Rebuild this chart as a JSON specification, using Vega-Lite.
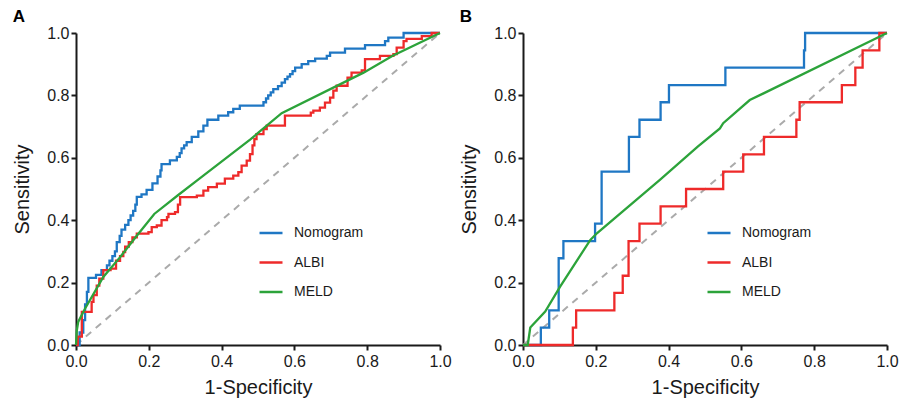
{
  "$schema": "https://vega.github.io/schema/vega-lite/v6.json",
  "padding": {"left": 12, "top": 8, "right": 2, "bottom": 2},
  "background": "white",
  "config": {
    "font": "Liberation Sans",
    "view": {"stroke": null},
    "axis": {
      "grid": false,
      "labelFlush": false,
      "labelOverlap": false,
      "domainColor": "#1a1a1a",
      "domainWidth": 2,
      "tickColor": "#1a1a1a",
      "tickWidth": 2,
      "tickSize": 5,
      "labelFont": "Liberation Sans",
      "labelFontSize": 16,
      "labelColor": "#1a1a1a",
      "titleFont": "Liberation Sans",
      "titleFontSize": 20,
      "titleFontWeight": "normal",
      "titleColor": "#1a1a1a"
    },
    "legend": {
      "labelFont": "Liberation Sans",
      "labelFontSize": 14,
      "labelColor": "#1a1a1a"
    },
    "title": {"font": "Liberation Sans", "fontSize": 17, "fontWeight": "bold", "color": "#000", "anchor": "start", "frame": "bounds", "offset": -1}
  },
  "datasets": {
    "roc": [
      {"panel": "A", "model": "Nomogram", "x": 0, "y": 0},
      {"panel": "A", "model": "Nomogram", "x": 0.01, "y": 0.04},
      {"panel": "A", "model": "Nomogram", "x": 0.02, "y": 0.08},
      {"panel": "A", "model": "Nomogram", "x": 0.025, "y": 0.13},
      {"panel": "A", "model": "Nomogram", "x": 0.03, "y": 0.17},
      {"panel": "A", "model": "Nomogram", "x": 0.034, "y": 0.215},
      {"panel": "A", "model": "Nomogram", "x": 0.055, "y": 0.225},
      {"panel": "A", "model": "Nomogram", "x": 0.07, "y": 0.24},
      {"panel": "A", "model": "Nomogram", "x": 0.085, "y": 0.255},
      {"panel": "A", "model": "Nomogram", "x": 0.092, "y": 0.27},
      {"panel": "A", "model": "Nomogram", "x": 0.1, "y": 0.285},
      {"panel": "A", "model": "Nomogram", "x": 0.107, "y": 0.3},
      {"panel": "A", "model": "Nomogram", "x": 0.112, "y": 0.33},
      {"panel": "A", "model": "Nomogram", "x": 0.12, "y": 0.35},
      {"panel": "A", "model": "Nomogram", "x": 0.125, "y": 0.37},
      {"panel": "A", "model": "Nomogram", "x": 0.135, "y": 0.385},
      {"panel": "A", "model": "Nomogram", "x": 0.144, "y": 0.4},
      {"panel": "A", "model": "Nomogram", "x": 0.15, "y": 0.415},
      {"panel": "A", "model": "Nomogram", "x": 0.157, "y": 0.43},
      {"panel": "A", "model": "Nomogram", "x": 0.163, "y": 0.45},
      {"panel": "A", "model": "Nomogram", "x": 0.167, "y": 0.475},
      {"panel": "A", "model": "Nomogram", "x": 0.18, "y": 0.483},
      {"panel": "A", "model": "Nomogram", "x": 0.194, "y": 0.497},
      {"panel": "A", "model": "Nomogram", "x": 0.21, "y": 0.518},
      {"panel": "A", "model": "Nomogram", "x": 0.224, "y": 0.54},
      {"panel": "A", "model": "Nomogram", "x": 0.232, "y": 0.56},
      {"panel": "A", "model": "Nomogram", "x": 0.235, "y": 0.58},
      {"panel": "A", "model": "Nomogram", "x": 0.258, "y": 0.592},
      {"panel": "A", "model": "Nomogram", "x": 0.277, "y": 0.603},
      {"panel": "A", "model": "Nomogram", "x": 0.285, "y": 0.615},
      {"panel": "A", "model": "Nomogram", "x": 0.29, "y": 0.63},
      {"panel": "A", "model": "Nomogram", "x": 0.297, "y": 0.64},
      {"panel": "A", "model": "Nomogram", "x": 0.304, "y": 0.65},
      {"panel": "A", "model": "Nomogram", "x": 0.318, "y": 0.667},
      {"panel": "A", "model": "Nomogram", "x": 0.336, "y": 0.685},
      {"panel": "A", "model": "Nomogram", "x": 0.35, "y": 0.703},
      {"panel": "A", "model": "Nomogram", "x": 0.361, "y": 0.722},
      {"panel": "A", "model": "Nomogram", "x": 0.391, "y": 0.735},
      {"panel": "A", "model": "Nomogram", "x": 0.418, "y": 0.746},
      {"panel": "A", "model": "Nomogram", "x": 0.432, "y": 0.757},
      {"panel": "A", "model": "Nomogram", "x": 0.45, "y": 0.767},
      {"panel": "A", "model": "Nomogram", "x": 0.515, "y": 0.778},
      {"panel": "A", "model": "Nomogram", "x": 0.522, "y": 0.79},
      {"panel": "A", "model": "Nomogram", "x": 0.528, "y": 0.8},
      {"panel": "A", "model": "Nomogram", "x": 0.535, "y": 0.81},
      {"panel": "A", "model": "Nomogram", "x": 0.542, "y": 0.82},
      {"panel": "A", "model": "Nomogram", "x": 0.555, "y": 0.83},
      {"panel": "A", "model": "Nomogram", "x": 0.565, "y": 0.841},
      {"panel": "A", "model": "Nomogram", "x": 0.574, "y": 0.852},
      {"panel": "A", "model": "Nomogram", "x": 0.581, "y": 0.86},
      {"panel": "A", "model": "Nomogram", "x": 0.588, "y": 0.868},
      {"panel": "A", "model": "Nomogram", "x": 0.595, "y": 0.878},
      {"panel": "A", "model": "Nomogram", "x": 0.602, "y": 0.889},
      {"panel": "A", "model": "Nomogram", "x": 0.62, "y": 0.9},
      {"panel": "A", "model": "Nomogram", "x": 0.638, "y": 0.91},
      {"panel": "A", "model": "Nomogram", "x": 0.657, "y": 0.918},
      {"panel": "A", "model": "Nomogram", "x": 0.689, "y": 0.927},
      {"panel": "A", "model": "Nomogram", "x": 0.698, "y": 0.937},
      {"panel": "A", "model": "Nomogram", "x": 0.739, "y": 0.95},
      {"panel": "A", "model": "Nomogram", "x": 0.794, "y": 0.961},
      {"panel": "A", "model": "Nomogram", "x": 0.849, "y": 0.974},
      {"panel": "A", "model": "Nomogram", "x": 0.858, "y": 0.985},
      {"panel": "A", "model": "Nomogram", "x": 0.9, "y": 1.0},
      {"panel": "A", "model": "Nomogram", "x": 1, "y": 1.0},

      {"panel": "A", "model": "ALBI", "x": 0, "y": 0},
      {"panel": "A", "model": "ALBI", "x": 0.005, "y": 0.027},
      {"panel": "A", "model": "ALBI", "x": 0.016, "y": 0.106},
      {"panel": "A", "model": "ALBI", "x": 0.043, "y": 0.138},
      {"panel": "A", "model": "ALBI", "x": 0.048, "y": 0.16},
      {"panel": "A", "model": "ALBI", "x": 0.057, "y": 0.19},
      {"panel": "A", "model": "ALBI", "x": 0.064, "y": 0.213},
      {"panel": "A", "model": "ALBI", "x": 0.075, "y": 0.24},
      {"panel": "A", "model": "ALBI", "x": 0.095, "y": 0.245},
      {"panel": "A", "model": "ALBI", "x": 0.11, "y": 0.27},
      {"panel": "A", "model": "ALBI", "x": 0.121, "y": 0.285},
      {"panel": "A", "model": "ALBI", "x": 0.13, "y": 0.298},
      {"panel": "A", "model": "ALBI", "x": 0.135, "y": 0.315},
      {"panel": "A", "model": "ALBI", "x": 0.145, "y": 0.33},
      {"panel": "A", "model": "ALBI", "x": 0.155, "y": 0.345},
      {"panel": "A", "model": "ALBI", "x": 0.167, "y": 0.357},
      {"panel": "A", "model": "ALBI", "x": 0.199, "y": 0.362},
      {"panel": "A", "model": "ALBI", "x": 0.208, "y": 0.378},
      {"panel": "A", "model": "ALBI", "x": 0.222, "y": 0.383},
      {"panel": "A", "model": "ALBI", "x": 0.235, "y": 0.4},
      {"panel": "A", "model": "ALBI", "x": 0.25, "y": 0.41},
      {"panel": "A", "model": "ALBI", "x": 0.254, "y": 0.42},
      {"panel": "A", "model": "ALBI", "x": 0.272, "y": 0.426},
      {"panel": "A", "model": "ALBI", "x": 0.28, "y": 0.45},
      {"panel": "A", "model": "ALBI", "x": 0.286, "y": 0.474},
      {"panel": "A", "model": "ALBI", "x": 0.332, "y": 0.479},
      {"panel": "A", "model": "ALBI", "x": 0.35, "y": 0.495},
      {"panel": "A", "model": "ALBI", "x": 0.363, "y": 0.506},
      {"panel": "A", "model": "ALBI", "x": 0.387, "y": 0.517},
      {"panel": "A", "model": "ALBI", "x": 0.409, "y": 0.533},
      {"panel": "A", "model": "ALBI", "x": 0.432, "y": 0.543},
      {"panel": "A", "model": "ALBI", "x": 0.446, "y": 0.554},
      {"panel": "A", "model": "ALBI", "x": 0.455, "y": 0.575},
      {"panel": "A", "model": "ALBI", "x": 0.469, "y": 0.591},
      {"panel": "A", "model": "ALBI", "x": 0.478, "y": 0.612},
      {"panel": "A", "model": "ALBI", "x": 0.485, "y": 0.64},
      {"panel": "A", "model": "ALBI", "x": 0.49, "y": 0.66},
      {"panel": "A", "model": "ALBI", "x": 0.496, "y": 0.676},
      {"panel": "A", "model": "ALBI", "x": 0.515, "y": 0.692},
      {"panel": "A", "model": "ALBI", "x": 0.524, "y": 0.703},
      {"panel": "A", "model": "ALBI", "x": 0.574, "y": 0.735},
      {"panel": "A", "model": "ALBI", "x": 0.645, "y": 0.745},
      {"panel": "A", "model": "ALBI", "x": 0.652, "y": 0.751},
      {"panel": "A", "model": "ALBI", "x": 0.67, "y": 0.761},
      {"panel": "A", "model": "ALBI", "x": 0.684, "y": 0.777},
      {"panel": "A", "model": "ALBI", "x": 0.698, "y": 0.793},
      {"panel": "A", "model": "ALBI", "x": 0.707, "y": 0.815},
      {"panel": "A", "model": "ALBI", "x": 0.716, "y": 0.831},
      {"panel": "A", "model": "ALBI", "x": 0.746, "y": 0.857},
      {"panel": "A", "model": "ALBI", "x": 0.757, "y": 0.873},
      {"panel": "A", "model": "ALBI", "x": 0.785, "y": 0.88},
      {"panel": "A", "model": "ALBI", "x": 0.794, "y": 0.916},
      {"panel": "A", "model": "ALBI", "x": 0.835, "y": 0.927},
      {"panel": "A", "model": "ALBI", "x": 0.872, "y": 0.932},
      {"panel": "A", "model": "ALBI", "x": 0.881, "y": 0.953},
      {"panel": "A", "model": "ALBI", "x": 0.9, "y": 0.974},
      {"panel": "A", "model": "ALBI", "x": 0.908, "y": 0.981},
      {"panel": "A", "model": "ALBI", "x": 0.95, "y": 0.99},
      {"panel": "A", "model": "ALBI", "x": 0.977, "y": 1.0},
      {"panel": "A", "model": "ALBI", "x": 1, "y": 1.0},

      {"panel": "A", "model": "MELD", "x": 0, "y": 0},
      {"panel": "A", "model": "MELD", "x": 0.002, "y": 0.045},
      {"panel": "A", "model": "MELD", "x": 0.006, "y": 0.074},
      {"panel": "A", "model": "MELD", "x": 0.025, "y": 0.117},
      {"panel": "A", "model": "MELD", "x": 0.075, "y": 0.218},
      {"panel": "A", "model": "MELD", "x": 0.12, "y": 0.28},
      {"panel": "A", "model": "MELD", "x": 0.167, "y": 0.35},
      {"panel": "A", "model": "MELD", "x": 0.215, "y": 0.42},
      {"panel": "A", "model": "MELD", "x": 0.28, "y": 0.48},
      {"panel": "A", "model": "MELD", "x": 0.332, "y": 0.527},
      {"panel": "A", "model": "MELD", "x": 0.48, "y": 0.66},
      {"panel": "A", "model": "MELD", "x": 0.565, "y": 0.743},
      {"panel": "A", "model": "MELD", "x": 0.79, "y": 0.873},
      {"panel": "A", "model": "MELD", "x": 0.87, "y": 0.927},
      {"panel": "A", "model": "MELD", "x": 1, "y": 1},

      {"panel": "B", "model": "Nomogram", "x": 0, "y": 0},
      {"panel": "B", "model": "Nomogram", "x": 0.049, "y": 0.0556},
      {"panel": "B", "model": "Nomogram", "x": 0.072, "y": 0.111},
      {"panel": "B", "model": "Nomogram", "x": 0.098, "y": 0.278},
      {"panel": "B", "model": "Nomogram", "x": 0.111, "y": 0.333},
      {"panel": "B", "model": "Nomogram", "x": 0.198, "y": 0.389},
      {"panel": "B", "model": "Nomogram", "x": 0.216, "y": 0.556},
      {"panel": "B", "model": "Nomogram", "x": 0.291, "y": 0.667},
      {"panel": "B", "model": "Nomogram", "x": 0.32, "y": 0.722},
      {"panel": "B", "model": "Nomogram", "x": 0.378, "y": 0.778},
      {"panel": "B", "model": "Nomogram", "x": 0.401, "y": 0.833},
      {"panel": "B", "model": "Nomogram", "x": 0.556, "y": 0.889},
      {"panel": "B", "model": "Nomogram", "x": 0.772, "y": 0.944},
      {"panel": "B", "model": "Nomogram", "x": 0.775, "y": 1.0},
      {"panel": "B", "model": "Nomogram", "x": 1, "y": 1.0},

      {"panel": "B", "model": "ALBI", "x": 0, "y": 0},
      {"panel": "B", "model": "ALBI", "x": 0.137, "y": 0.0556},
      {"panel": "B", "model": "ALBI", "x": 0.146, "y": 0.111},
      {"panel": "B", "model": "ALBI", "x": 0.251, "y": 0.167},
      {"panel": "B", "model": "ALBI", "x": 0.274, "y": 0.222},
      {"panel": "B", "model": "ALBI", "x": 0.29, "y": 0.333},
      {"panel": "B", "model": "ALBI", "x": 0.32, "y": 0.389},
      {"panel": "B", "model": "ALBI", "x": 0.378, "y": 0.444},
      {"panel": "B", "model": "ALBI", "x": 0.448, "y": 0.5},
      {"panel": "B", "model": "ALBI", "x": 0.55, "y": 0.556},
      {"panel": "B", "model": "ALBI", "x": 0.605, "y": 0.611},
      {"panel": "B", "model": "ALBI", "x": 0.662, "y": 0.667},
      {"panel": "B", "model": "ALBI", "x": 0.751, "y": 0.722},
      {"panel": "B", "model": "ALBI", "x": 0.76, "y": 0.778},
      {"panel": "B", "model": "ALBI", "x": 0.876, "y": 0.833},
      {"panel": "B", "model": "ALBI", "x": 0.913, "y": 0.889},
      {"panel": "B", "model": "ALBI", "x": 0.933, "y": 0.944},
      {"panel": "B", "model": "ALBI", "x": 0.979, "y": 1.0},
      {"panel": "B", "model": "ALBI", "x": 1, "y": 1.0},

      {"panel": "B", "model": "MELD", "x": 0, "y": 0},
      {"panel": "B", "model": "MELD", "x": 0.013, "y": 0.0},
      {"panel": "B", "model": "MELD", "x": 0.02, "y": 0.056},
      {"panel": "B", "model": "MELD", "x": 0.061, "y": 0.107},
      {"panel": "B", "model": "MELD", "x": 0.102, "y": 0.187},
      {"panel": "B", "model": "MELD", "x": 0.185, "y": 0.337},
      {"panel": "B", "model": "MELD", "x": 0.203, "y": 0.358},
      {"panel": "B", "model": "MELD", "x": 0.376, "y": 0.529},
      {"panel": "B", "model": "MELD", "x": 0.48, "y": 0.636},
      {"panel": "B", "model": "MELD", "x": 0.541, "y": 0.694},
      {"panel": "B", "model": "MELD", "x": 0.55, "y": 0.711},
      {"panel": "B", "model": "MELD", "x": 0.623, "y": 0.785},
      {"panel": "B", "model": "MELD", "x": 1, "y": 1}
    ],
    "diag": [{"x": 0, "y": 0}, {"x": 1, "y": 1}]
  },
  "spacing": 7,
  "resolve": {"scale": {"color": "independent"}, "legend": {"color": "independent"}},
  "hconcat": [
    {
      "width": 364,
      "height": 312,
      "title": {"text": "A"},
      "layer": [
        {
          "data": {"name": "diag"},
          "mark": {"type": "line", "color": "#aaaaaa", "strokeWidth": 2, "strokeDash": [7, 6]},
          "encoding": {
            "x": {"field": "x", "type": "quantitative", "scale": {"domain": [0, 1], "nice": false}, "axis": {"values": [0, 0.2, 0.4, 0.6, 0.8, 1], "format": ".1f", "title": "1-Specificity", "labelPadding": 3, "titlePadding": 8}},
            "y": {"field": "y", "type": "quantitative", "scale": {"domain": [0, 1], "nice": false}, "axis": {"values": [0, 0.2, 0.4, 0.6, 0.8, 1], "format": ".1f", "title": "Sensitivity", "labelPadding": 2, "titlePadding": 14}}
          }
        },
        {
          "data": {"name": "roc"},
          "transform": [{"filter": "datum.panel == 'A' && datum.model != 'MELD'"}],
          "mark": {"type": "line", "interpolate": "step-after", "strokeWidth": 2.3},
          "encoding": {
            "x": {"field": "x", "type": "quantitative"},
            "y": {"field": "y", "type": "quantitative"},
            "color": {"field": "model", "type": "nominal", "scale": {"domain": ["Nomogram", "ALBI", "MELD"], "range": ["#1f77c4", "#ee2a2a", "#2ca33a"]},
              "legend": {"orient": "none", "legendX": 182, "legendY": 187, "title": null, "symbolType": "stroke", "symbolSize": 529, "symbolStrokeWidth": 2.5, "labelOffset": 10, "rowPadding": 9.5, "padding": 0}}
          }
        },
        {
          "data": {"name": "roc"},
          "transform": [{"filter": "datum.panel == 'A' && datum.model == 'MELD'"}],
          "mark": {"type": "line", "strokeWidth": 2.3},
          "encoding": {
            "x": {"field": "x", "type": "quantitative"},
            "y": {"field": "y", "type": "quantitative"},
            "color": {"field": "model", "type": "nominal", "scale": {"domain": ["Nomogram", "ALBI", "MELD"], "range": ["#1f77c4", "#ee2a2a", "#2ca33a"]}}
          }
        }
      ]
    },
    {
      "width": 364,
      "height": 312,
      "title": {"text": "B"},
      "layer": [
        {
          "data": {"name": "diag"},
          "mark": {"type": "line", "color": "#aaaaaa", "strokeWidth": 2, "strokeDash": [7, 6]},
          "encoding": {
            "x": {"field": "x", "type": "quantitative", "scale": {"domain": [0, 1], "nice": false}, "axis": {"values": [0, 0.2, 0.4, 0.6, 0.8, 1], "format": ".1f", "title": "1-Specificity", "labelPadding": 3, "titlePadding": 8}},
            "y": {"field": "y", "type": "quantitative", "scale": {"domain": [0, 1], "nice": false}, "axis": {"values": [0, 0.2, 0.4, 0.6, 0.8, 1], "format": ".1f", "title": "Sensitivity", "labelPadding": 2, "titlePadding": 14}}
          }
        },
        {
          "data": {"name": "roc"},
          "transform": [{"filter": "datum.panel == 'B' && datum.model != 'MELD'"}],
          "mark": {"type": "line", "interpolate": "step-after", "strokeWidth": 2.3},
          "encoding": {
            "x": {"field": "x", "type": "quantitative"},
            "y": {"field": "y", "type": "quantitative"},
            "color": {"field": "model", "type": "nominal", "scale": {"domain": ["Nomogram", "ALBI", "MELD"], "range": ["#1f77c4", "#ee2a2a", "#2ca33a"]},
              "legend": {"orient": "none", "legendX": 183, "legendY": 187, "title": null, "symbolType": "stroke", "symbolSize": 529, "symbolStrokeWidth": 2.5, "labelOffset": 10, "rowPadding": 9.5, "padding": 0}}
          }
        },
        {
          "data": {"name": "roc"},
          "transform": [{"filter": "datum.panel == 'B' && datum.model == 'MELD'"}],
          "mark": {"type": "line", "strokeWidth": 2.3},
          "encoding": {
            "x": {"field": "x", "type": "quantitative"},
            "y": {"field": "y", "type": "quantitative"},
            "color": {"field": "model", "type": "nominal", "scale": {"domain": ["Nomogram", "ALBI", "MELD"], "range": ["#1f77c4", "#ee2a2a", "#2ca33a"]}}
          }
        }
      ]
    }
  ]
}
